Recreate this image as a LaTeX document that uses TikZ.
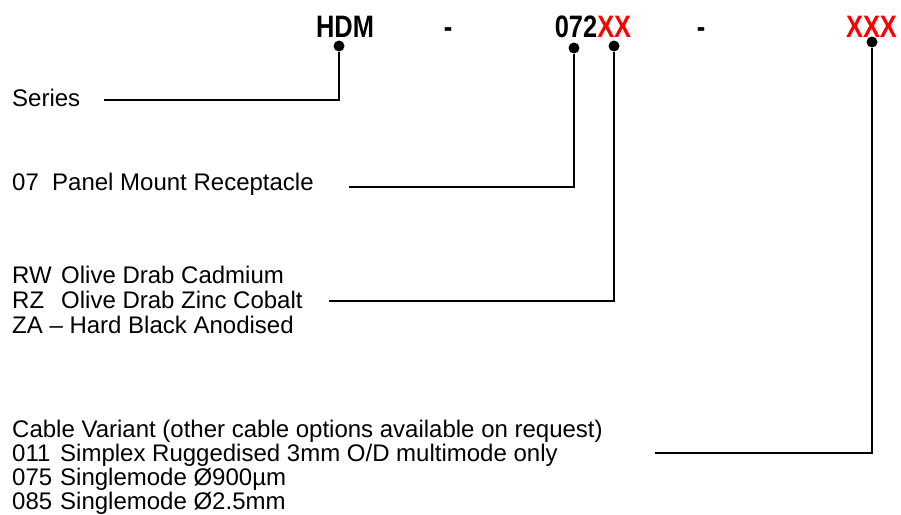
\documentclass[tikz,border=0pt]{standalone}
\usepackage{fontspec}
\setmainfont{Liberation Sans}
\newfontfamily\partfont[FakeStretch=0.82]{Liberation Sans}
\usetikzlibrary{calc}
\definecolor{codered}{HTML}{FF0000}

\begin{document}
\begin{tikzpicture}[x=1pt,y=-1pt,
    partno/.style={font=\partfont\bfseries\fontsize{31}{31}\selectfont,inner sep=0pt,anchor=base},
    legend/.style={font=\fontsize{24}{26}\selectfont,inner sep=0pt,anchor=base west},
    pin/.style={circle,fill=black,inner sep=0pt,minimum size=11pt},
    lead/.style={line width=2.6pt}
  ]
    \useasboundingbox (0,0) rectangle (901,514);
    % part number fields
    \node[partno] (hdm) at (345,37) {HDM};
    \node[partno] (dashA) at (448,37) {-};
    \node[partno] (style) at (593,37) {072\textcolor{codered}{XX}};
    \node[partno] (dashB) at (701,37) {-};
    \node[partno] (cable) at (871.5,37) {\textcolor{codered}{XXX}};
    \node[pin] (pSeries) at (339,46) {};
    \node[pin] (pMount) at (574,48) {};
    \node[pin] (pPlate) at (614,46) {};
    \node[pin] (pCable) at (872,42) {};
    % legend text
    \node[legend] (series) at (12,106) {Series};
    \node[legend] (mount) at (12,190) {\makebox[40pt][l]{07}Panel Mount Receptacle};
    \node[legend] (rw) at (12,283) {\makebox[49pt][l]{RW}Olive Drab Cadmium};
    \node[legend] (rz) at (12,308) {\makebox[49pt][l]{RZ}Olive Drab Zinc Cobalt};
    \node[legend] (za) at (12,333) {ZA – Hard Black Anodised};
    \node[legend] (variant) at (12,437) {Cable Variant (other cable options available on request)};
    \node[legend] (c011) at (12,461) {\makebox[48pt][l]{011}Simplex Ruggedised 3mm O/D multimode only};
    \node[legend] (c075) at (12,485) {\makebox[48pt][l]{075}Singlemode Ø900µm};
    \node[legend] (c085) at (12,509) {\makebox[48pt][l]{085}Singlemode Ø2.5mm};
    % leader lines
    \coordinate (lSeries) at (104,100);
    \coordinate (lMount) at (349,187);
    \coordinate (lPlate) at (329,301);
    \coordinate (lCable) at (655,453);
    \draw[lead] (lSeries) -| (pSeries);
    \draw[lead] (lMount) -| (pMount);
    \draw[lead] (lPlate) -| (pPlate);
    \draw[lead] (lCable) -| (pCable);
\end{tikzpicture}
\end{document}
